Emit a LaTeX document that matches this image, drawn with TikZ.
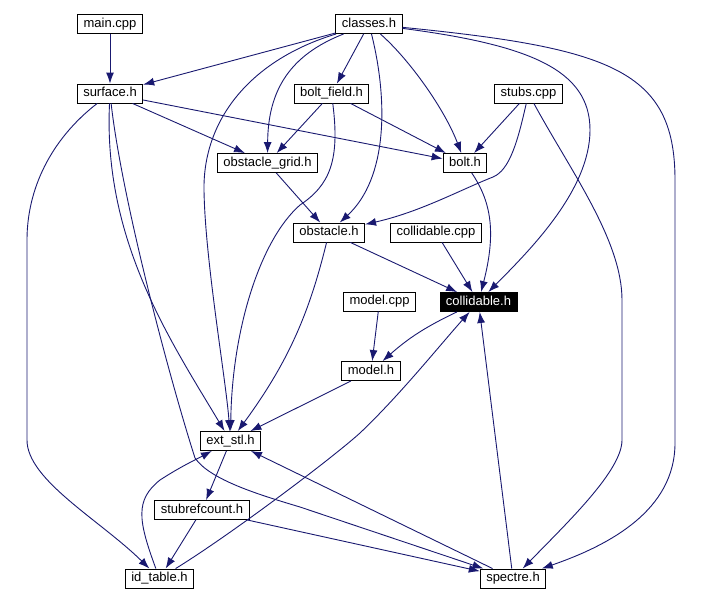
\documentclass[tikz,border=0pt]{standalone}
\usepackage{fontspec}
\setmainfont{Liberation Sans}
\usetikzlibrary{arrows.meta}
\definecolor{edgeblue}{HTML}{191970}

\begin{document}
\begin{tikzpicture}[x=1pt,y=-1pt,
  file/.style={draw=black,line width=0.9pt,fill=white,inner xsep=6pt,inner ysep=0pt,
    minimum height=19pt,text height=9.5pt,text depth=3pt,font=\fontsize{13}{13}\selectfont},
  focus/.style={file,fill=black,text=white},
  dep/.style={draw=edgeblue,line width=0.9pt,-{Latex[length=11pt,width=8pt]}}]
% the picture is measured in pixels, y going down
\useasboundingbox (0,0) rectangle (702,603);
% The files
\node[file] (main) at (110,24) {main.cpp};
\node[file] (classes) at (369,24) {classes.h};
\node[file] (surface) at (110,93.5) {surface.h};
\node[file] (boltfield) at (331.5,93.5) {bolt\_field.h};
\node[file] (stubs) at (528.5,93.5) {stubs.cpp};
\node[file] (grid) at (267.5,163) {obstacle\_grid.h};
\node[file] (bolt) at (465,163) {bolt.h};
\node[file] (obstacle) at (329,232.5) {obstacle.h};
\node[file] (collcpp) at (436,232.5) {collidable.cpp};
\node[focus] (collh) at (478.5,302) {collidable.h};
\node[file] (modelcpp) at (379.5,301.5) {model.cpp};
\node[file] (modelh) at (371,371) {model.h};
\node[file] (extstl) at (230.5,441) {ext\_stl.h};
\node[file] (refcount) at (202,510) {stubrefcount.h};
\node[file] (idtable) at (159.5,578.5) {id\_table.h};
\node[file] (spectre) at (513,578.5) {spectre.h};
% The straight includes
\draw[dep] (main) -- (surface);
\draw[dep] (classes) -- (surface);
\draw[dep] (classes) -- (boltfield);
\draw[dep] (surface) -- (grid);
\draw[dep] (surface) -- (bolt);
\draw[dep] (boltfield) -- (grid);
\draw[dep] (boltfield) -- (bolt);
\draw[dep] (stubs) -- (bolt);
\draw[dep] (grid) -- (obstacle);
\draw[dep] (obstacle) -- (collh);
\draw[dep] (collcpp) -- (collh);
\draw[dep] (collh) to[bend right=8] (modelh);
\draw[dep] (modelcpp) -- (modelh);
\draw[dep] (modelh) -- (extstl);
\draw[dep] (extstl) -- (refcount);
\draw[dep] (refcount) -- (idtable);
\draw[dep] (refcount) -- (spectre);
\draw[dep] (spectre) -- (extstl);
\draw[dep] (spectre) -- (collh);
% The curved ones out of classes.h
\draw[dep] (classes) .. controls (250,60) and (203,120) .. (204,190) .. controls (205,260) and (226,380) .. (extstl);
\draw[dep] (classes) .. controls (290,55) and (268,90) .. (grid);
\draw[dep] (classes) .. controls (388,100) and (388,178) .. (obstacle);
\draw[dep] (classes) .. controls (410,60) and (445,110) .. (bolt);
\draw[dep] (classes) .. controls (530,45) and (590,70) .. (590,130) .. controls (590,190) and (530,250) .. (collh);
\draw[dep] (classes) .. controls (610,48) and (675,70) .. (675,180) -- (675,443) .. controls (675,510) and (610,545) .. (spectre);
% The curved ones out of surface.h
\draw[dep] (surface) .. controls (50,140) and (27,190) .. (27,240) -- (27,440) .. controls (27,480) and (100,520) .. (idtable);
\draw[dep] (surface) .. controls (103,240) and (170,340) .. (extstl);
\draw[dep] (surface) .. controls (122,200) and (170,380) .. (195,458) .. controls (210,480) and (260,495) .. (300,507) -- (spectre);
% The rest of the curves
\draw[dep] (boltfield) .. controls (340,160) and (330,185) .. (300,205) .. controls (260,240) and (232,330) .. (extstl);
\draw[dep] (stubs) .. controls (518,140) and (510,170) .. (493,177) .. controls (460,190) and (420,212) .. (obstacle);
\draw[dep] (stubs) .. controls (570,170) and (622,240) .. (622,300) -- (622,440) .. controls (622,470) and (570,520) .. (spectre);
\draw[dep] (obstacle) .. controls (310,310) and (290,360) .. (extstl);
\draw[dep] (bolt) .. controls (490,200) and (497,230) .. (collh);
\draw[dep] (idtable) .. controls (138,520) and (135,500) .. (160,480) .. controls (180,467) and (195,460) .. (extstl);
\draw[dep] (idtable) .. controls (230,535) and (330,460) .. (360,433) .. controls (400,395) and (440,345) .. (collh);
\end{tikzpicture}
\end{document}
